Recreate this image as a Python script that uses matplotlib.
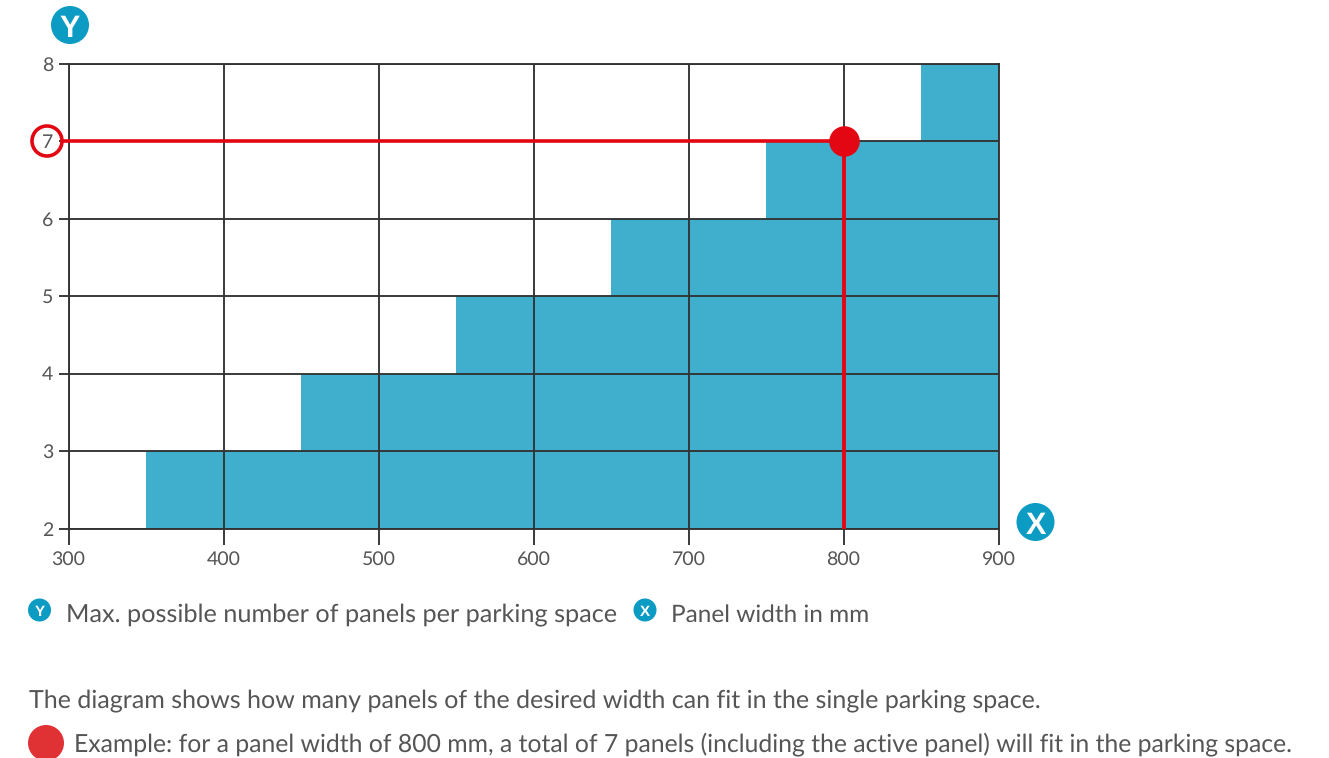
import matplotlib
matplotlib.use("Agg")
import matplotlib.pyplot as plt
from matplotlib.patches import Circle

# 数据
panel_width_edges = [350, 450, 550, 650, 750, 850, 900]
panel_counts = [3, 4, 5, 6, 7, 8, 8]
x_ticks = [300, 400, 500, 600, 700, 800, 900]
y_ticks = [2, 3, 4, 5, 6, 7, 8]
example_width = 800
example_panels = 7

legend_y = "Max. possible number of panels per parking space"
legend_x = "Panel width in mm"
note_1 = "The diagram shows how many panels of the desired width can fit in the single parking space."
note_2 = "Example: for a panel width of 800 mm, a total of 7 panels (including the active panel) will fit in the parking space."

W, H = 1329, 758
FILL = "#40afce"
BADGE = "#0b9bc3"
RED = "#e30613"
GRID = "#333333"
TEXT = "#555555"

plt.rcParams["font.family"] = ["Lato", "DejaVu Sans"]
plt.rcParams["text.hinting"] = "none"

fig = plt.figure(figsize=(W / 100, H / 100), dpi=100, facecolor="white")

# 主图，位置按像素算
left, right, top, bottom = 68.5, 998.5, 63.5, 528.5
ax = fig.add_axes([left / W, 1 - bottom / H, (right - left) / W, (bottom - top) / H])
ax.set_xlim(300, 900)
ax.set_ylim(2, 8)

ax.fill_between(panel_width_edges, panel_counts, 2, step="post", color=FILL, lw=0, zorder=1)
ax.grid(True, color=GRID, lw=1.35, zorder=2)
ax.set_axisbelow(False)

ax.set_xticks(x_ticks)
ax.set_yticks(y_ticks)
ax.tick_params(axis="x", length=11.5, width=1.35, color=GRID, labelsize=14, labelcolor=TEXT, pad=4.5)
ax.tick_params(axis="y", length=7.5, width=1.35, color=GRID, labelsize=14, labelcolor=TEXT, pad=3.5)
for s in ax.spines.values():
    s.set_color(GRID)
    s.set_linewidth(1.35)

# 红色示例线
ax.plot([300, example_width], [example_panels, example_panels], color=RED, lw=2.6, zorder=4,
        solid_capstyle="butt", clip_on=False)
ax.plot([example_width, example_width], [2, example_panels], color=RED, lw=2.8, zorder=4,
        solid_capstyle="butt")
ax.plot([example_width], [example_panels], "o", color=RED, ms=22, mew=0, zorder=5, clip_on=False)

# 覆盖层：图标和说明文字，坐标是像素
ov = fig.add_axes([0, 0, 1, 1], facecolor="none")
ov.set_xlim(0, W)
ov.set_ylim(H, 0)
ov.axis("off")


def badge(x, y, r, letter, size):
    ov.add_patch(Circle((x, y), r, fc=BADGE, ec="none"))
    ov.text(x, y + 0.5, letter, color="white", fontsize=size, fontweight="bold",
            family="Liberation Sans", ha="center", va="center_baseline")


badge(70, 25, 19, "Y", 22)
badge(1035.5, 522, 19, "X", 22)
badge(39.5, 610, 11.5, "Y", 11)
badge(645, 610, 11.5, "X", 11)

# 7 外面的红圈
ov.add_patch(Circle((47, 141), 15, fc="none", ec=RED, lw=2.6))
ov.plot([62, left], [141, 141], color=RED, lw=2.6, solid_capstyle="butt")

ov.text(66, 621.5, legend_y, color=TEXT, fontsize=18.2, ha="left", va="baseline")
ov.text(671, 621.5, legend_x, color=TEXT, fontsize=17.55, ha="left", va="baseline")
ov.text(29, 707.3, note_1, color=TEXT, fontsize=18, ha="left", va="baseline")
ov.add_patch(Circle((46, 743), 18, fc="#e03134", ec="none"))
ov.text(74, 751.5, note_2, color=TEXT, fontsize=17.8, ha="left", va="baseline")

fig.savefig("out.png", dpi=100)
